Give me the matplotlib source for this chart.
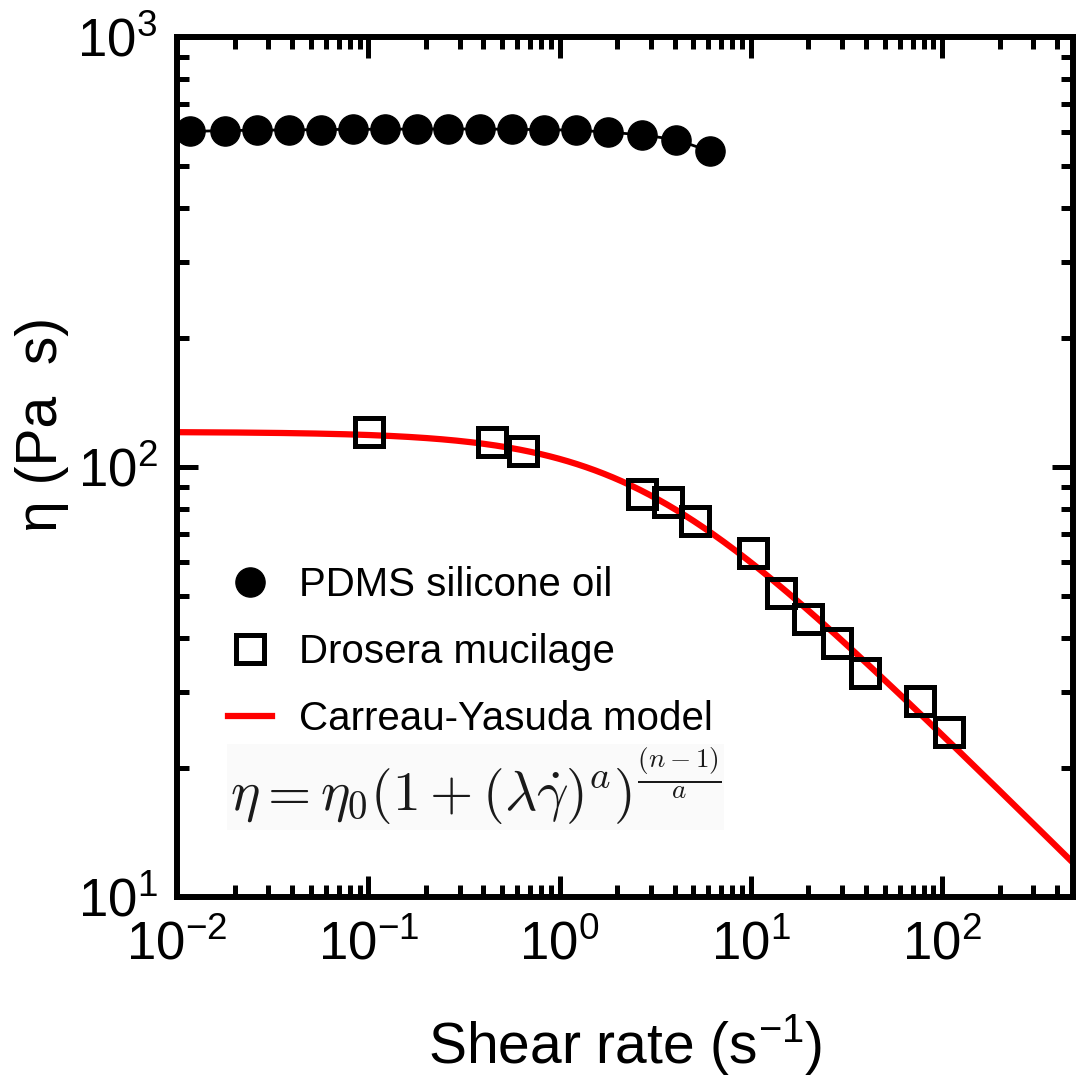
import numpy as np
import matplotlib
matplotlib.use("Agg")
import matplotlib.pyplot as plt
from matplotlib.lines import Line2D

plt.rcParams["font.family"] = ["Liberation Sans", "DejaVu Sans"]
plt.rcParams["mathtext.fontset"] = "custom"
plt.rcParams["mathtext.rm"] = "Liberation Sans"
plt.rcParams["mathtext.it"] = "Liberation Sans:italic"

# PDMS silicone oil (filled circles)
pdms_rate = [0.0117, 0.0179, 0.0262, 0.0384, 0.0567, 0.0829, 0.1216, 0.179, 0.262,
             0.385, 0.567, 0.831, 1.218, 1.79, 2.71, 4.07, 6.08]
pdms_eta = [603, 606, 607, 608, 609, 610, 610, 611, 611, 611, 610, 609, 607, 601,
            592, 577, 543]

# Drosera mucilage (open squares)
dros_rate = [0.101, 0.444, 0.644, 2.71, 3.71, 5.08, 10.3, 14.4, 20.0, 28.2, 39.7,
             76.6, 108.6]
dros_eta = [120.6, 114.3, 108.9, 86.5, 82.9, 74.9, 63.1, 50.9, 44.3, 39.0, 33.2,
            28.6, 24.2]

# Carreau-Yasuda fit parameters
eta0 = 120.7
lam = 0.39
a_cy = 1.0
n_cy = 0.56

W, H = 1076, 1079
fig = plt.figure(figsize=(W / 100, H / 100), dpi=100)
ax = fig.add_axes([177 / W, 1 - 897 / H, (1073 - 177) / W, (897 - 37) / H])

rate_fit = np.logspace(-2, np.log10(500), 300)
eta_fit = eta0 * (1 + (lam * rate_fit) ** a_cy) ** ((n_cy - 1) / a_cy)
ax.plot(rate_fit, eta_fit, color="#ff0000", lw=4.5, zorder=2)

ax.plot(pdms_rate, pdms_eta, color="black", lw=2, marker="o", ms=21,
        mec="black", mfc="black", zorder=3, clip_on=False)
ax.plot(dros_rate, dros_eta, ls="none", marker="s", ms=20, mew=3.6,
        mec="black", mfc="none", zorder=3)

ax.set_xscale("log")
ax.set_yscale("log")
ax.set_xlim(0.01, 483)
ax.set_ylim(10, 1000)

for side in ax.spines.values():
    side.set_linewidth(4.3)
ax.tick_params(which="both", direction="in", top=True, right=True,
               labelsize=38)
ax.tick_params(which="major", length=15, width=3.6)
ax.tick_params(which="minor", length=8.6, width=3.6)
ax.tick_params(axis="x", pad=17)
ax.tick_params(axis="y", pad=14)

ax.set_xlabel("Shear rate (s$^{\\mathregular{-1}}$)", fontsize=41, labelpad=30)
ax.set_ylabel("η (Pa  s)", fontsize=41)
ax.yaxis.set_label_coords(-0.12, 0.549)

handles = [
    Line2D([], [], ls="none", marker="o", ms=21, color="black"),
    Line2D([], [], ls="none", marker="s", ms=20, mew=3.6, mec="black", mfc="none"),
    Line2D([], [], color="#ff0000", lw=4.5),
]
labels = ["PDMS silicone oil", "Drosera mucilage", "Carreau-Yasuda model"]
ax.legend(handles, labels, loc="upper left", bbox_to_anchor=(0.057, 0.385),
          frameon=False, fontsize=29, handlelength=1.1, handletextpad=0.65,
          labelspacing=0.72, borderpad=0, borderaxespad=0)

ax.text(0.059, 0.128,
        r"$\eta = \eta_0(1 + (\lambda\dot{\gamma})^a)^{\frac{(n-1)}{a}}$",
        transform=ax.transAxes, fontsize=40, math_fontfamily="cm",
        color="#1a1a1a", ha="left", va="center",
        bbox=dict(facecolor="#fafafa", edgecolor="none", pad=2))

fig.savefig("out.png", dpi=100)
